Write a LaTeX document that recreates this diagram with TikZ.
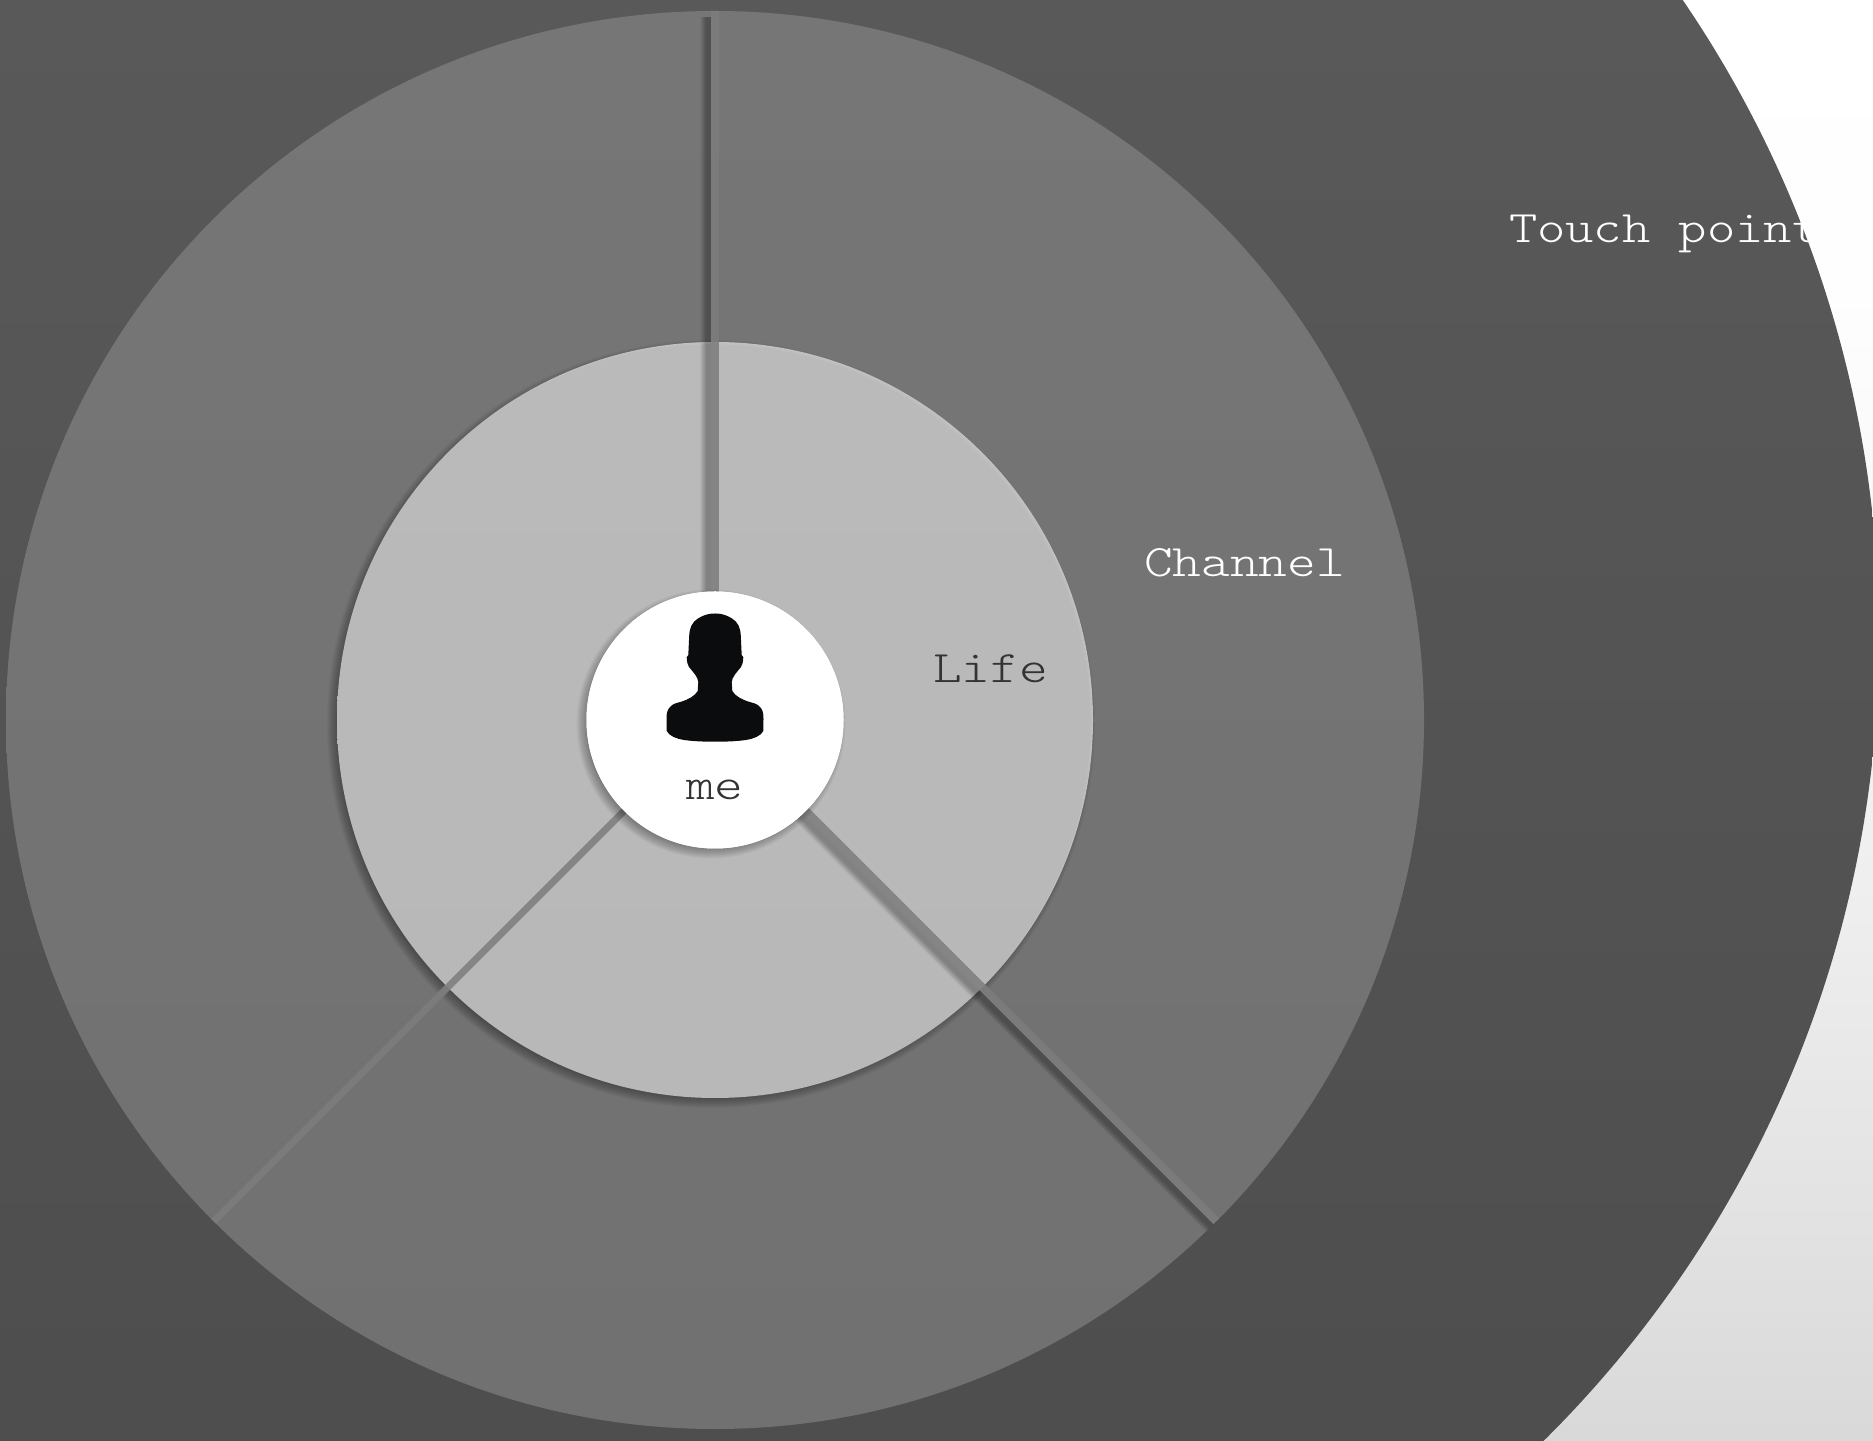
\documentclass[tikz,border=0pt]{standalone}
\usepackage{fontspec}
\usetikzlibrary{calc}
\newfontfamily\courfont[FakeStretch=1.215]{Latin Modern Mono Light}
\newfontfamily\courtight[FakeStretch=1.198]{Latin Modern Mono Light}
\pgfdeclarelayer{discs}
\pgfdeclarelayer{bars}
\pgfsetlayers{discs,bars,main}
\pgfdeclareverticalshading{pagebg}{100bp}{%
  rgb(0bp)=(.85,.85,.85); rgb(25bp)=(.85,.85,.85); rgb(33.33bp)=(.89,.89,.89);
  rgb(43.75bp)=(.935,.935,.935); rgb(64.6bp)=(.995,.995,.995); rgb(75bp)=(1,1,1); rgb(100bp)=(1,1,1)}
\definecolor{outerT}{HTML}{5D5D5D}
\definecolor{outerB}{HTML}{4B4B4B}
\definecolor{midT}{HTML}{767676}
\definecolor{midB}{HTML}{717171}
\definecolor{lifeT}{HTML}{BABABA}
\definecolor{lifeB}{HTML}{B8B8B8}
\definecolor{barinner}{HTML}{858585}
\definecolor{barouter}{HTML}{7B7B7B}
\definecolor{inkc}{HTML}{333333}
\definecolor{iconc}{HTML}{0B0C0E}
\tikzset{
  x=1pt,y=1pt,
  disc/.style={circle,inner sep=0pt,outer sep=0pt,minimum size=#1},
  sector/.style={line width=8pt},
  label/.style={anchor=base west,inner sep=0pt,outer sep=0pt,font=\fontsize{45}{50}\selectfont\courfont},
}
% soft shadow of a disc: stacked translucent circles
\newcommand{\discshadow}[3]{%
  \foreach \d in {-6,-5,...,6}{\fill[black,opacity=.03] (#1-4,#2-4) circle[radius=#3+\d];}}
% soft shadow of a bar: stacked translucent strokes, offset by #3
\newcommand{\barshadow}[3]{%
  \foreach \w in {6,7,...,18}{\draw[black,opacity=.022,line width=\w pt] ($(#1)+#3$) -- ($(#2)+#3$);}}
\begin{document}
\begin{tikzpicture}
\useasboundingbox (0,0) rectangle (1873,1440);
\clip (0,0) rectangle (1873,1440);

\node[disc=257pt,fill=white] (hub) at (715,720) {};

\begin{pgfonlayer}{discs}
  \shade[shading=pagebg] (0,0) rectangle (1873,1440);
  \node[disc=2262pt,shade,top color=outerT,bottom color=outerB] (outer) at (748,803) {};
  \node[disc=1418pt,shade,top color=midT,bottom color=midB] (mid) at (715,720) {};
  \discshadow{715}{720}{378}
  \node[disc=756pt,shade,top color=lifeT,bottom color=lifeB] (life) at (715,720) {};
  \begin{scope}
    \clip (715,720) circle[radius=378];
    \fill[white,opacity=.06,even odd rule] (715,720) circle[radius=378] (712.5,717.5) circle[radius=378];
    \fill[white,opacity=.05,even odd rule] (715,720) circle[radius=378] (714,719) circle[radius=378];
  \end{scope}
\end{pgfonlayer}

\begin{pgfonlayer}{bars}
  \barshadow{mid.90}{hub.center}{(-6,-6)}
  \barshadow{mid.-45}{hub.center}{(-4.24,-4.24)}
  \draw[sector,barouter] (mid.90) -- (life.90);
  \draw[sector,barinner] (life.90) -- (hub.center);
  \draw[sector,barouter] (mid.-45) -- (life.-45);
  \draw[sector,barinner] (life.-45) -- (hub.center);
  \draw[sector,line width=7pt,barouter] (mid.-135) -- (life.-135);
  \draw[sector,line width=7pt,barinner] (life.-135) -- (hub.center);
  \discshadow{715}{720}{128.5}
\end{pgfonlayer}

\fill[white] (715,720) circle[radius=128.5];

\begin{scope}[y=-1pt,shift={(715pt,1440pt)}]
  \fill[iconc] (0,613.5)
    .. controls (8,613.5) and (13,616) .. (17,618.5)
    .. controls (23,622) and (25.5,628) .. (25.8,636)
    -- (26.7,655)
    -- (28.3,657.3)
    .. controls (28,662) and (27.5,665) .. (26,667)
    .. controls (22,672) and (17,677) .. (16.7,682)
    -- (17.3,691)
    .. controls (20,696) and (27,699.5) .. (33,701.5)
    .. controls (38,703) and (42,703.5) .. (45,707)
    .. controls (48,710) and (48.5,714) .. (48.5,719)
    -- (48.3,731)
    .. controls (46,736) and (38,739) .. (31,740)
    .. controls (20,741.5) and (10,741.7) .. (0,741.7)
    .. controls (-10,741.7) and (-20,741.5) .. (-31,740)
    .. controls (-38,739) and (-46,736) .. (-48.3,731)
    -- (-48.5,719)
    .. controls (-48.5,714) and (-48,710) .. (-45,707)
    .. controls (-42,703.5) and (-38,703) .. (-33,701.5)
    .. controls (-27,699.5) and (-20,696) .. (-17.3,691)
    -- (-16.7,682)
    .. controls (-17,677) and (-22,672) .. (-26,667)
    .. controls (-27.5,665) and (-28,662) .. (-28.3,657.3)
    -- (-26.7,655)
    -- (-25.8,636)
    .. controls (-25.5,628) and (-23,622) .. (-17,618.5)
    .. controls (-13,616) and (-8,613.5) .. (0,613.5) -- cycle;
\end{scope}

\node[label,text=inkc] (melabel) at (686,640) {me};
\node[label,text=inkc] (lifelabel) at (933,757) {Life};
\node[label,text=white] (chlabel) at (1144,863) {Channel};
\node[label,text=white,font=\fontsize{45}{50}\selectfont\courtight] (tplabel) at (1509,1197) {Touch point};
\end{tikzpicture}
\end{document}
